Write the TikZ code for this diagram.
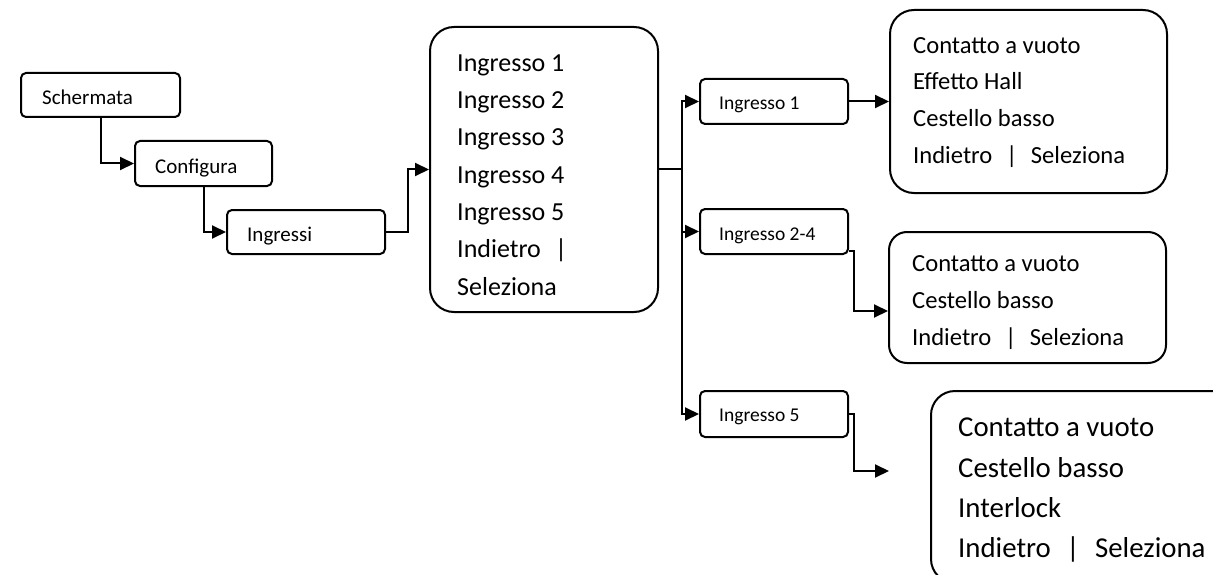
\documentclass[tikz,border=0pt]{standalone}
\usepackage{fontspec}
\setmainfont{Carlito}
\usetikzlibrary{arrows.meta}
\newcommand{\barsep}{\ \ \hspace{2.5pt}|\hspace{2.5pt}\ \ }
\begin{document}
\begin{tikzpicture}[x=1pt,y=-1pt,
  box/.style={draw, line width=2pt, rounded corners=5pt, inner sep=0pt},
  bigbox/.style={draw, line width=2pt, rounded corners=24pt, inner sep=0pt},
  conn/.style={line width=2pt},
  arr/.style={conn, -{Triangle[length=14pt,width=13pt]}},
  ltxt/.style={anchor=base west, inner sep=0pt, font=\fontsize{21pt}{25pt}\selectfont},
  rtxt/.style={anchor=base west, inner sep=0pt, font=\fontsize{19.5pt}{24pt}\selectfont},
  btxt/.style={anchor=north west, inner sep=0pt, align=left}
]
\useasboundingbox (0,0) rectangle (1213,575);

% left chain
\node[box, minimum width=159pt, minimum height=44pt] (sch) at (100.5,95) {};
\node[ltxt] (scht) at (42,105) {Schermata};
\node[box, minimum width=137pt, minimum height=45pt] (conf) at (203.5,163.5) {};
\node[ltxt] (conft) at (155,173) {Configura};
\node[box, minimum width=158pt, minimum height=44pt] (ingr) at (306,232) {};
\node[ltxt] (ingrt) at (247,241.7) {Ingressi};

% main menu
\node[bigbox, minimum width=228pt, minimum height=285pt] (main) at (544,169.5) {};
\node[btxt, font=\fontsize{26pt}{37.3pt}\selectfont] (maint) at (457,54.4)
  {Ingresso 1\\Ingresso 2\\Ingresso 3\\Ingresso 4\\Ingresso 5\\Indietro\ \ \hspace{2.5pt}|\\Seleziona};

% sub items
\node[box, minimum width=148pt, minimum height=45pt] (in1) at (774,101.5) {};
\node[rtxt] (in1t) at (719,110) {Ingresso 1};
\node[box, minimum width=148pt, minimum height=45pt] (in24) at (774,231.5) {};
\node[rtxt] (in24t) at (719,240) {Ingresso 2-4};
\node[box, minimum width=148pt, minimum height=46pt] (in5) at (774,414) {};
\node[rtxt] (in5t) at (719,421.7) {Ingresso 5};

% result boxes
\node[bigbox, minimum width=277pt, minimum height=183pt] (r1) at (1028.5,101.5) {};
\node[btxt, font=\fontsize{24.6pt}{36.7pt}\selectfont] (r1t) at (913,37)
  {Contatto a vuoto\\Effetto Hall\\Cestello basso\\Indietro\barsep Seleziona};
\node[bigbox, rounded corners=18pt, minimum width=277pt, minimum height=131pt] (r2) at (1027.5,297.5) {};
\node[btxt, font=\fontsize{24.6pt}{37pt}\selectfont] (r2t) at (912,255)
  {Contatto a vuoto\\Cestello basso\\Indietro\barsep Seleziona};
\begin{scope}
  \clip (0,0) rectangle (1213,575);
  \node[bigbox, minimum width=309pt, minimum height=192pt] (r3) at (1085.5,487) {};
\end{scope}
\node[btxt, font=\fontsize{28.8pt}{40.3pt}\selectfont] (r3t) at (958,418)
  {Contatto a vuoto\\Cestello basso\\Interlock\\Indietro\barsep Seleziona};

% connectors
\draw[arr] (sch.south) |- (conf.west);
\draw[arr] (conf.south) |- (ingr.west);
\draw[arr] (ingr.east) -- ++(22,0) |- (main.west);
\coordinate (bus) at (682,169.5);
\draw[conn] (main.east) -- (bus);
\draw[arr] (bus) |- (in1.west);
\draw[arr] (bus) |- (in24.west);
\draw[arr] (bus) |- (in5.west);
\draw[arr] (in1.east) -- (r1.west);
\draw[arr] ([yshift=-19pt]in24.east) -- ++(5,0) |- ([yshift=-13.5pt]r2.west);
\coordinate (r3in) at (889,471);
\draw[arr] (in5.east) -- ++(5,0) |- (r3in);
\end{tikzpicture}
\end{document}
